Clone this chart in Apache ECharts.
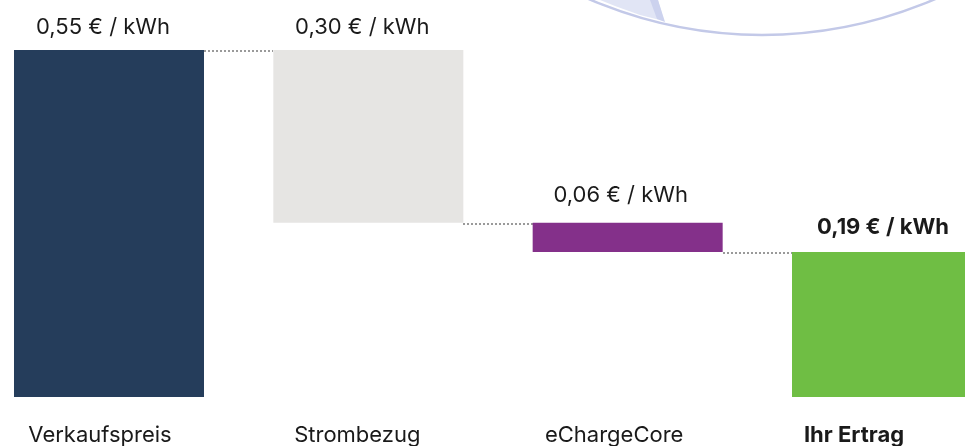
<!DOCTYPE html>
<html>
<head>
<meta charset="utf-8">
<script src="https://cdn.jsdelivr.net/npm/echarts@6/dist/echarts.min.js"></script>
<style>
html,body{margin:0;padding:0;background:#fff;}
#chart{width:965px;height:446px;}
</style>
</head>
<body>
<div id="chart"></div>
<script>
// Categories and tick labels
const categories = ['Verkaufspreis', 'Strombezug', 'eChargeCore', 'Ihr Ertrag'];
// Value label texts shown above bars
const valueLabels = ['0,55 € / kWh', '0,30 € / kWh', '0,06 € / kWh', '0,19 € / kWh'];
// Bar geometry (illustrative scale, € / kWh)
const barBase = [0, 0.276, 0.23, 0];
const barTop = [0.55, 0.55, 0.276, 0.23];
// Connector levels between consecutive bars
const connectorLevels = [0.55, 0.276, 0.23];
const barColors = ['#253d5b', '#e6e5e3', '#84308a', '#6fbe44'];

const barHeight = barTop.map((t, i) => +(t - barBase[i]).toFixed(4));
const FONT = 'Inter, "Noto Sans", sans-serif';
const FS = 22;
const BAR_W = 190;
const labelShift = [-6, -6, -7, -4];
const labelDist = [12, 12, 16, 14];
const catPad = [18, 22, 27, 66];

const chart = echarts.init(document.getElementById('chart'), null, {renderer: 'canvas'});

const rich = {};
categories.forEach((c, i) => {
  rich['c' + i] = {
    fontFamily: FONT, fontSize: FS, color: '#1a1a1a',
    fontWeight: i === 3 ? 700 : 400,
    padding: [0, catPad[i], 0, 0]
  };
});

const option = {
  animation: false,
  backgroundColor: '#ffffff',
  graphic: [
    {
      type: 'circle', z: -10, silent: true,
      shape: {cx: 762, cy: -400, r: 435},
      style: {fill: 'none', stroke: '#c3c9e8', lineWidth: 2.5}
    },
    {
      type: 'polygon', z: -9, silent: true,
      shape: {points: [[600, 0], [658, 0], [664, 21], [640, 15], [615, 6]]},
      style: {fill: '#e1e5f5'}
    },
    {
      type: 'polygon', z: -9, silent: true,
      shape: {points: [[650, 0], [658, 0], [665, 22], [657, 19]]},
      style: {fill: '#ccd2ee'}
    }
  ],
  grid: {left: -20.67, right: -51.67, top: 50, bottom: 49, containLabel: false, outerBoundsMode: 'none'},
  xAxis: {
    type: 'category',
    data: categories,
    axisLine: {show: false},
    axisTick: {show: false},
    axisLabel: {
      interval: 0,
      margin: 27,
      formatter: (v, i) => '{c' + i + '|' + v + '}',
      rich: rich
    }
  },
  yAxis: {
    type: 'value', min: 0, max: 0.55,
    show: false,
    splitLine: {show: false}
  },
  series: [
    {
      type: 'bar', stack: 'w', barWidth: BAR_W,
      itemStyle: {color: 'transparent'},
      silent: true,
      data: barBase
    },
    {
      type: 'bar', stack: 'w', barWidth: BAR_W,
      data: barHeight.map((v, i) => ({
        value: v,
        itemStyle: {color: barColors[i]},
        label: {offset: [labelShift[i], 0], distance: labelDist[i], fontWeight: i === 3 ? 700 : 400}
      })),
      label: {
        show: true, position: 'top',
        fontFamily: FONT, fontSize: FS, color: '#1a1a1a',
        formatter: p => valueLabels[p.dataIndex]
      }
    },
    {
      type: 'custom',
      silent: true,
      z: 1,
      data: connectorLevels.map((v, i) => [i, v]),
      encode: {x: 0, y: 1},
      renderItem: function (params, api) {
        const i = api.value(0);
        const lv = api.value(1);
        const p0 = api.coord([i, lv]);
        const p1 = api.coord([i + 1, lv]);
        const y = Math.round(p0[1]) + 1;
        return {
          type: 'line',
          shape: {x1: Math.round(p0[0] + BAR_W / 2), y1: y, x2: Math.round(p1[0] - BAR_W / 2), y2: y},
          style: {stroke: '#9a9a9a', lineWidth: 2, lineDash: [2, 2]}
        };
      }
    }
  ]
};
chart.setOption(option);
</script>
</body>
</html>
